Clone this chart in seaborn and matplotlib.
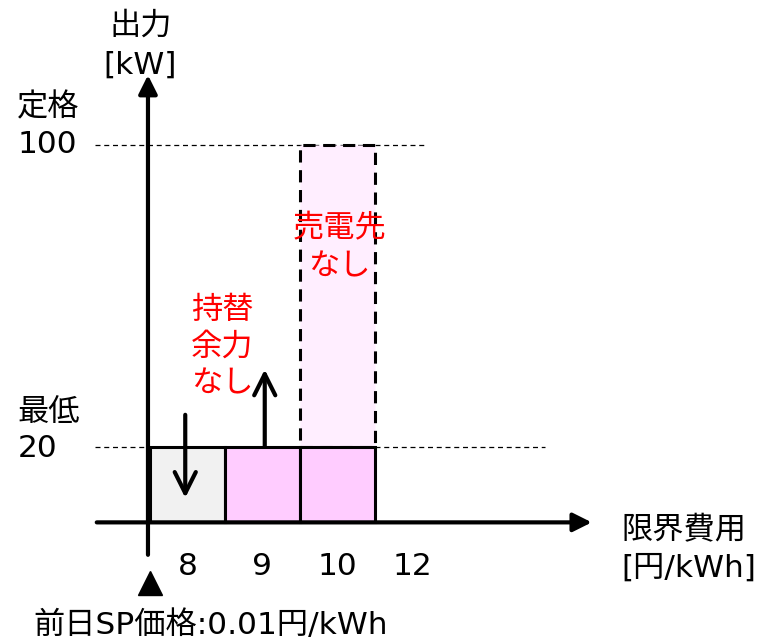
import matplotlib
matplotlib.use("Agg")
import matplotlib.pyplot as plt
import seaborn as sns
import pandas as pd

# Merit-order data: marginal cost categories and dispatched output [kW]
cost_labels = ["8", "9", "10", "12"]
bar_costs = ["8", "9", "10"]
bar_output = [20, 20, 20]
bar_colors = ["#f1f1f1", "#ffccff", "#ffccff"]
minimum_output = 20
rated_output = 100
spare_cost = "10"          # unit with headroom but no buyer
spot_price_label = "前日SP価格:0.01円/kWh"

sns.set_theme(style="white")
# Verdana-like Latin glyphs with a Japanese fallback
plt.rcParams["font.family"] = ["DejaVu Sans", "Noto Sans CJK JP"]
plt.rcParams["text.color"] = "black"

fig = plt.figure(figsize=(7.74, 6.39), dpi=100)
ax = fig.add_axes([0, 0, 1, 1])

df = pd.DataFrame({"cost": bar_costs, "output": bar_output})
sns.barplot(data=df, x="cost", y="output", hue="cost", order=cost_labels,
            hue_order=bar_costs, palette=bar_colors, width=1.0,
            edgecolor="black", linewidth=2.2, saturation=1, legend=False,
            ax=ax, zorder=3)

# Unsold headroom of the 10 円 unit: from minimum up to rated output
spare_x = cost_labels.index(spare_cost)
ax.bar(spare_x, rated_output - minimum_output, bottom=minimum_output, width=1.0,
       facecolor="#ffeeff", edgecolor="black", linestyle=(0, (4, 2.5)),
       linewidth=2.2, zorder=2)

# Reference levels (minimum / rated)
ax.plot([-1.23, 4.77], [minimum_output, minimum_output], color="black",
        lw=0.9, ls=(0, (4, 3)), zorder=1)
ax.plot([-1.23, 3.17], [rated_output, rated_output], color="black",
        lw=0.9, ls=(0, (4, 3)), zorder=1)

# Axes drawn as arrows
ax.annotate("", xy=(5.39, 0), xytext=(-1.21, 0),
            arrowprops=dict(arrowstyle="-|>", lw=3, color="black",
                            mutation_scale=28, shrinkA=0, shrinkB=0), zorder=5)
ax.annotate("", xy=(-0.527, 118.5), xytext=(-0.527, -8.6),
            arrowprops=dict(arrowstyle="-|>", lw=3, color="black",
                            mutation_scale=28, shrinkA=0, shrinkB=0), zorder=5)

# Dispatch direction arrows
ax.annotate("", xy=(-0.03, 6.5), xytext=(-0.03, 28.5),
            arrowprops=dict(arrowstyle="->", lw=3, color="black",
                            mutation_scale=38, shrinkA=0, shrinkB=0), zorder=6)
ax.annotate("", xy=(1.03, 40.5), xytext=(1.03, minimum_output),
            arrowprops=dict(arrowstyle="->", lw=3, color="black",
                            mutation_scale=38, shrinkA=0, shrinkB=0), zorder=6)

fs = 22.5

# Cost tick labels
for i, lab in enumerate(cost_labels):
    ax.text(i, -11.8, lab, ha="center", va="center", fontsize=fs)

ax.text(-0.63, 126.3, "出力\n[kW]", ha="center", va="center", fontsize=fs,
        linespacing=1.4)
ax.text(-2.27, 105.0, "定格\n" + str(rated_output), ha="left", va="center",
        fontsize=fs, linespacing=1.36)
ax.text(-2.27, 24.3, "最低\n" + str(minimum_output), ha="left", va="center",
        fontsize=fs, linespacing=1.32)
ax.text(5.78, -7.1, "限界費用\n[円/kWh]", ha="left", va="center", fontsize=fs,
        linespacing=1.38)
ax.text(0.46, 46.4, "持替\n余力\nなし", ha="center", va="center", fontsize=fs,
        color="#ff0000", linespacing=1.32)
ax.text(2.03, 72.8, "売電先\nなし", ha="center", va="center", fontsize=fs,
        color="#ff0000", linespacing=1.4)

# Day-ahead spot price marker
ax.plot([-0.5], [-16.0], marker="^", markersize=17, color="black",
        linestyle="none", zorder=6)
ax.text(0.31, -27.2, spot_price_label, ha="center", va="center", fontsize=fs)

ax.set_xlim(-2.5, 7.82)
ax.set_ylim(-30.9, 138.4)
ax.set_xlabel("")
ax.set_ylabel("")
ax.set_xticks([])
ax.set_yticks([])
for s in ax.spines.values():
    s.set_visible(False)
ax.set_facecolor("white")

fig.savefig("out.png", dpi=100, facecolor="white")
